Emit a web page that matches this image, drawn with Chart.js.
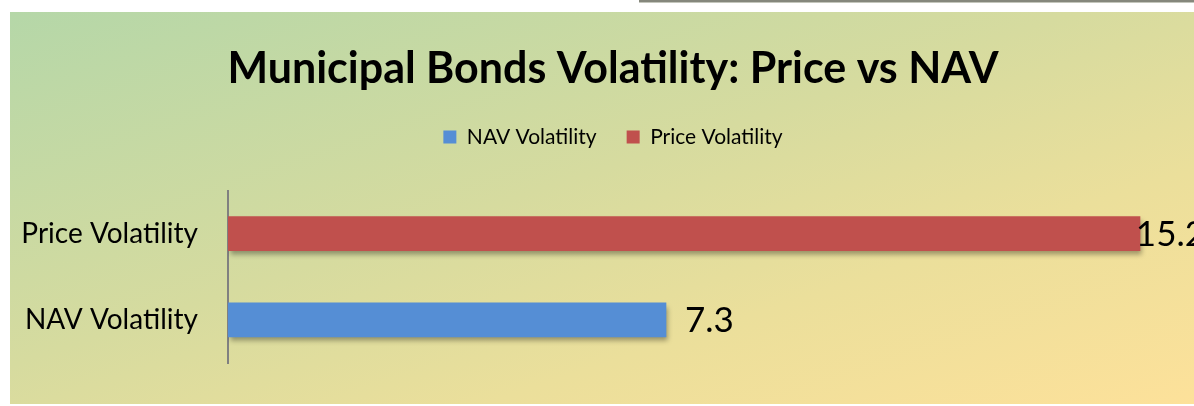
<!DOCTYPE html>
<html>
<head>
<meta charset="utf-8">
<script src="https://cdn.jsdelivr.net/npm/chart.js@4.4.1/dist/chart.umd.min.js"></script>
<style>
  html, body { margin: 0; padding: 0; background: #ffffff; }
  #topLine { position: absolute; left: 639px; top: 0; width: 555px; height: 2px; background: #85877c; border-bottom: 1px solid #c4c6bc; }
  #chartBox {
    position: absolute; left: 10px; top: 12px; width: 1184px; height: 392px;
    background: linear-gradient(to bottom right, #b5d7a8 0%, #d6db9f 45%, #ebdf9b 70%, #fde19a 100%);
  }
</style>
</head>
<body>
<div id="topLine"></div>
<div id="chartBox"><canvas id="myChart" width="1184" height="392"></canvas></div>
<script>
// categories, top to bottom
const categories = ['Price Volatility', 'NAV Volatility'];
// one series per legend entry
const navValues = [null, 7.3];
const priceValues = [15.2, null];
const seriesNames = ['NAV Volatility', 'Price Volatility'];

const FONT = 'Lato, "Open Sans", sans-serif';

// soft drop shadow under the bars, like the spreadsheet original
const barShadow = {
  id: 'barShadow',
  beforeDatasetsDraw(chart) {
    const ctx = chart.ctx;
    ctx.save();
    ctx.shadowColor = 'rgba(0,0,0,0.35)';
    ctx.shadowBlur = 5;
    ctx.shadowOffsetX = 2;
    ctx.shadowOffsetY = 4;
  },
  afterDatasetsDraw(chart) {
    chart.ctx.restore();
  }
};

// value labels to the right of each bar (kept from running far off the edge)
const valueLabels = {
  id: 'valueLabels',
  afterDatasetsDraw(chart) {
    const ctx = chart.ctx;
    ctx.save();
    ctx.font = '35px ' + FONT;
    ctx.fillStyle = '#000000';
    ctx.textBaseline = 'middle';
    ctx.textAlign = 'left';
    chart.data.datasets.forEach((ds, i) => {
      const meta = chart.getDatasetMeta(i);
      meta.data.forEach((el, j) => {
        const v = ds.data[j];
        if (v === null || v === undefined) return;
        const txt = v.toFixed(1);
        const tw = ctx.measureText(txt).width;
        const x = Math.min(el.x + 19, chart.width + 11 - tw);
        ctx.fillText(txt, x, el.y + 1);
      });
    });
    ctx.restore();
  }
};

const ctx = document.getElementById('myChart');
new Chart(ctx, {
  type: 'bar',
  data: {
    labels: categories,
    datasets: [
      { label: seriesNames[0], data: navValues, backgroundColor: '#558ed5', barThickness: 34 },
      { label: seriesNames[1], data: priceValues, backgroundColor: '#c0504d', barThickness: 34 }
    ]
  },
  options: {
    indexAxis: 'y',
    responsive: false,
    animation: false,
    skipNull: true,
    layout: { padding: { top: 31, left: 8, right: -14, bottom: 41 } },
    scales: {
      x: {
        position: 'top', min: 0, max: 16.1,
        grid: { display: false },
        border: { display: false },
        ticks: { display: false },
        afterFit(scale) { scale.height = 33; }
      },
      y: {
        grid: { display: false, drawTicks: false },
        border: { display: true, color: '#808080', width: 2 },
        ticks: { color: '#000000', font: { family: FONT, size: 28 }, padding: 30 },
        afterFit(scale) {
          scale.width = 210;
          scale.paddingTop = 0;
          scale.paddingBottom = 0;
        }
      }
    },
    plugins: {
      title: {
        display: true,
        text: 'Municipal Bonds Volatility: Price vs NAV',
        color: '#000000',
        font: { family: FONT, size: 43, weight: 'bold' },
        padding: { top: 0, bottom: 2 }
      },
      legend: {
        display: true,
        labels: { color: '#000000', font: { family: FONT, size: 21 }, boxWidth: 13, boxHeight: 13, padding: 30 }
      },
      tooltip: { enabled: false }
    }
  },
  plugins: [barShadow, valueLabels]
});
</script>
</body>
</html>
